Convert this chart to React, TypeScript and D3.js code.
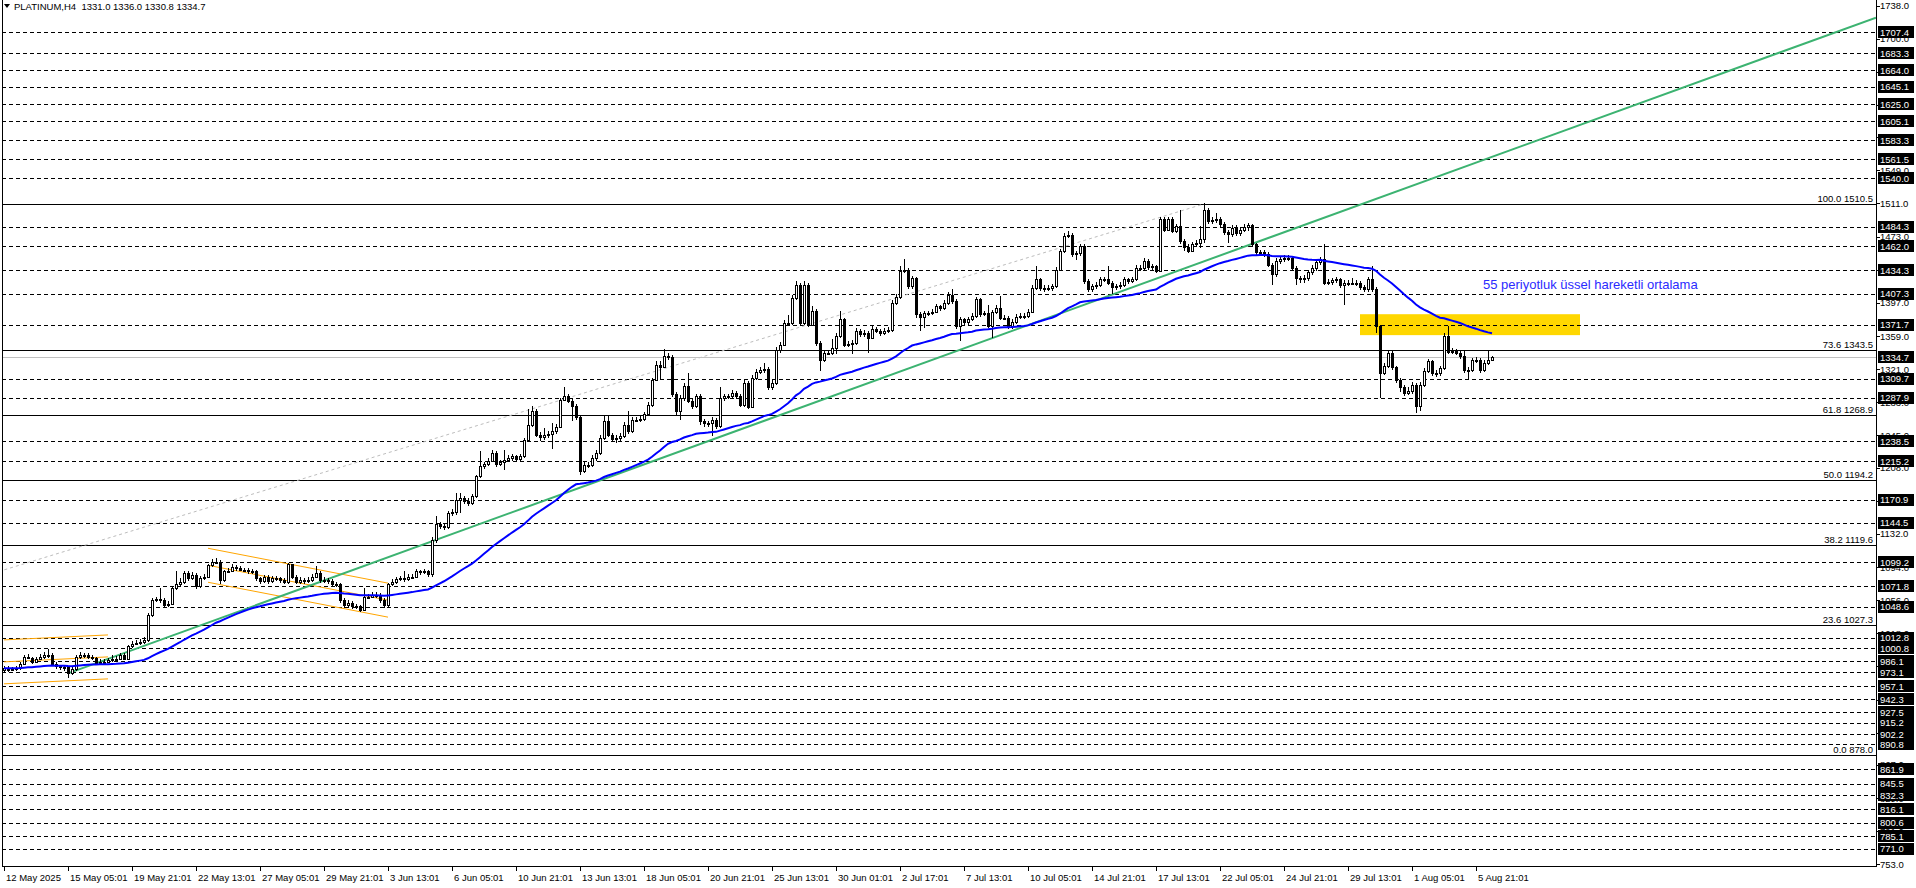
import * as d3 from "d3";

// PLATINUM H4 candles, bar 0 = 12 May 2025. open of each bar = previous close
const firstOpen = 976;
const closes = [
  978, 976, 977, 978, 983, 991, 990, 985, 989, 991, 993, 993, 983, 980, 979, 979, 972, 977, 991, 993,
  993, 991, 990, 984, 985, 985, 987, 988, 989, 993, 989, 1003, 1006, 1007, 1008, 1010, 1039, 1056, 1057, 1056,
  1050, 1052, 1070, 1075, 1077, 1087, 1081, 1085, 1072, 1081, 1083, 1096, 1100, 1100, 1079, 1089, 1090, 1094, 1093, 1091,
  1091, 1089, 1089, 1081, 1078, 1083, 1078, 1081, 1081, 1079, 1077, 1097, 1083, 1077, 1079, 1078, 1079, 1083, 1087, 1079,
  1079, 1078, 1074, 1074, 1056, 1050, 1053, 1049, 1049, 1045, 1060, 1060, 1062, 1062, 1056, 1050, 1074, 1077, 1080, 1081,
  1080, 1083, 1083, 1089, 1088, 1089, 1086, 1125, 1143, 1141, 1140, 1156, 1157, 1171, 1173, 1170, 1168, 1175, 1198, 1210,
  1212, 1216, 1225, 1212, 1214, 1217, 1219, 1221, 1218, 1221, 1240, 1257, 1273, 1246, 1243, 1245, 1247, 1250, 1255, 1286,
  1290, 1285, 1279, 1266, 1204, 1211, 1211, 1219, 1225, 1242, 1261, 1246, 1241, 1242, 1244, 1257, 1250, 1263, 1263, 1264,
  1269, 1280, 1309, 1326, 1324, 1336, 1335, 1292, 1273, 1288, 1302, 1285, 1279, 1290, 1261, 1259, 1259, 1263, 1256, 1288,
  1290, 1290, 1294, 1290, 1280, 1305, 1278, 1311, 1318, 1320, 1321, 1300, 1305, 1343, 1349, 1374, 1374, 1403, 1418, 1374,
  1418, 1372, 1388, 1351, 1332, 1340, 1340, 1345, 1359, 1378, 1349, 1350, 1351, 1365, 1361, 1363, 1357, 1367, 1365, 1362,
  1365, 1366, 1397, 1404, 1434, 1435, 1416, 1425, 1384, 1381, 1385, 1385, 1387, 1393, 1391, 1397, 1406, 1399, 1370, 1378,
  1375, 1378, 1382, 1401, 1384, 1385, 1371, 1386, 1391, 1380, 1380, 1370, 1375, 1381, 1382, 1382, 1387, 1414, 1424, 1414,
  1414, 1414, 1416, 1435, 1456, 1474, 1475, 1453, 1454, 1462, 1422, 1413, 1416, 1418, 1424, 1424, 1420, 1415, 1416, 1418,
  1424, 1422, 1424, 1437, 1437, 1445, 1438, 1439, 1434, 1493, 1481, 1493, 1480, 1485, 1468, 1461, 1457, 1464, 1466, 1470,
  1504, 1491, 1492, 1493, 1487, 1478, 1476, 1483, 1477, 1481, 1484, 1486, 1464, 1455, 1455, 1453, 1441, 1430, 1445, 1447,
  1449, 1449, 1437, 1426, 1424, 1426, 1432, 1437, 1444, 1447, 1420, 1421, 1423, 1424, 1418, 1420, 1420, 1420, 1420, 1415,
  1413, 1424, 1413, 1370, 1317, 1325, 1340, 1323, 1309, 1300, 1294, 1296, 1303, 1279, 1303, 1319, 1330, 1317, 1316, 1322,
  1359, 1341, 1342, 1340, 1336, 1320, 1320, 1331, 1332, 1320, 1328, 1331, 1334.7,
];
const highs = [
  980, 980, 979, 980, 985, 993, 994, 991, 991, 994, 996, 1000, 995, 985, 982, 982, 980, 979, 993, 996,
  995, 995, 993, 991, 988, 988, 990, 993, 992, 995, 995, 1005, 1009, 1010, 1011, 1014, 1041, 1058, 1060, 1070,
  1058, 1055, 1072, 1089, 1081, 1090, 1089, 1088, 1087, 1084, 1086, 1098, 1103, 1104, 1102, 1091, 1093, 1097, 1096, 1095,
  1093, 1093, 1092, 1091, 1083, 1085, 1085, 1084, 1084, 1083, 1081, 1099, 1098, 1085, 1082, 1081, 1082, 1086, 1095, 1089,
  1082, 1081, 1080, 1077, 1076, 1058, 1056, 1055, 1052, 1051, 1070, 1063, 1065, 1065, 1064, 1058, 1076, 1080, 1083, 1084,
  1090, 1086, 1086, 1092, 1091, 1092, 1091, 1128, 1152, 1146, 1144, 1158, 1160, 1179, 1179, 1176, 1173, 1178, 1200, 1227,
  1215, 1219, 1228, 1227, 1217, 1228, 1222, 1224, 1223, 1224, 1242, 1275, 1279, 1275, 1249, 1253, 1250, 1259, 1258, 1288,
  1300, 1293, 1288, 1281, 1268, 1214, 1214, 1222, 1228, 1245, 1267, 1267, 1248, 1246, 1248, 1260, 1273, 1266, 1266, 1267,
  1272, 1283, 1311, 1330, 1330, 1344, 1339, 1337, 1295, 1291, 1305, 1317, 1288, 1293, 1292, 1264, 1262, 1266, 1265, 1300,
  1293, 1293, 1297, 1296, 1292, 1308, 1307, 1314, 1321, 1323, 1328, 1323, 1308, 1346, 1352, 1377, 1383, 1406, 1422, 1420,
  1422, 1420, 1393, 1390, 1353, 1343, 1343, 1355, 1362, 1388, 1380, 1353, 1354, 1368, 1367, 1366, 1365, 1370, 1369, 1367,
  1368, 1369, 1400, 1407, 1439, 1447, 1437, 1428, 1427, 1387, 1388, 1388, 1390, 1396, 1395, 1400, 1409, 1413, 1401, 1381,
  1380, 1381, 1385, 1404, 1403, 1388, 1395, 1389, 1394, 1405, 1383, 1382, 1378, 1384, 1385, 1385, 1390, 1417, 1439, 1426,
  1417, 1417, 1419, 1438, 1459, 1477, 1479, 1477, 1457, 1465, 1464, 1424, 1419, 1421, 1427, 1427, 1439, 1422, 1419, 1421,
  1427, 1426, 1427, 1440, 1440, 1448, 1447, 1442, 1441, 1496, 1495, 1496, 1495, 1488, 1503, 1470, 1464, 1467, 1469, 1485,
  1511, 1506, 1495, 1500, 1496, 1490, 1481, 1486, 1486, 1484, 1487, 1489, 1488, 1466, 1458, 1458, 1455, 1443, 1448, 1451,
  1452, 1452, 1451, 1439, 1428, 1429, 1435, 1440, 1447, 1450, 1464, 1424, 1426, 1427, 1426, 1423, 1423, 1425, 1423, 1422,
  1418, 1427, 1439, 1415, 1372, 1328, 1343, 1342, 1325, 1311, 1303, 1300, 1306, 1305, 1306, 1322, 1333, 1332, 1320, 1325,
  1363, 1370, 1345, 1344, 1342, 1343, 1323, 1334, 1335, 1334, 1331, 1343, 1336.0,
];
const lows = [
  974, 974, 975, 975, 976, 982, 988, 983, 984, 987, 989, 990, 981, 977, 976, 975, 967, 970, 975, 989,
  990, 989, 987, 982, 982, 983, 984, 985, 986, 987, 987, 988, 1001, 1004, 1005, 1006, 1008, 1037, 1054, 1053,
  1047, 1048, 1050, 1068, 1072, 1075, 1078, 1079, 1069, 1070, 1079, 1081, 1094, 1097, 1075, 1077, 1087, 1088, 1090, 1089,
  1088, 1086, 1086, 1078, 1075, 1076, 1075, 1076, 1078, 1076, 1075, 1075, 1080, 1074, 1075, 1075, 1076, 1077, 1081, 1076,
  1076, 1075, 1071, 1071, 1053, 1047, 1048, 1046, 1046, 1042, 1043, 1057, 1058, 1059, 1053, 1047, 1048, 1072, 1075, 1078,
  1077, 1078, 1080, 1081, 1085, 1086, 1083, 1082, 1122, 1138, 1136, 1138, 1153, 1154, 1156, 1166, 1164, 1165, 1173, 1196,
  1207, 1210, 1214, 1209, 1210, 1205, 1214, 1216, 1215, 1216, 1219, 1238, 1255, 1243, 1238, 1240, 1242, 1229, 1247, 1253,
  1284, 1282, 1262, 1263, 1200, 1202, 1208, 1209, 1216, 1223, 1240, 1243, 1238, 1236, 1239, 1242, 1247, 1248, 1260, 1260,
  1261, 1267, 1278, 1307, 1309, 1322, 1331, 1289, 1268, 1263, 1285, 1282, 1275, 1276, 1257, 1255, 1255, 1244, 1252, 1254,
  1285, 1287, 1288, 1287, 1277, 1278, 1275, 1276, 1308, 1315, 1317, 1297, 1297, 1303, 1340, 1347, 1370, 1372, 1400, 1371,
  1372, 1369, 1370, 1348, 1319, 1329, 1337, 1337, 1338, 1357, 1346, 1346, 1338, 1349, 1358, 1358, 1340, 1355, 1362, 1359,
  1360, 1362, 1364, 1394, 1402, 1431, 1413, 1413, 1380, 1365, 1368, 1382, 1383, 1385, 1388, 1389, 1395, 1396, 1367, 1353,
  1372, 1372, 1376, 1380, 1381, 1382, 1368, 1357, 1384, 1377, 1377, 1367, 1367, 1373, 1379, 1379, 1380, 1385, 1412, 1411,
  1410, 1411, 1411, 1414, 1433, 1454, 1471, 1450, 1446, 1451, 1419, 1410, 1410, 1413, 1415, 1421, 1417, 1407, 1412, 1413,
  1415, 1419, 1420, 1422, 1434, 1435, 1435, 1435, 1431, 1432, 1478, 1479, 1477, 1477, 1465, 1457, 1454, 1455, 1461, 1460,
  1466, 1488, 1488, 1489, 1484, 1475, 1466, 1473, 1474, 1474, 1478, 1480, 1461, 1452, 1452, 1450, 1438, 1418, 1427, 1442,
  1444, 1445, 1434, 1418, 1420, 1420, 1422, 1429, 1434, 1441, 1417, 1417, 1418, 1420, 1414, 1395, 1416, 1417, 1416, 1412,
  1410, 1410, 1410, 1362, 1288, 1314, 1322, 1320, 1305, 1295, 1290, 1291, 1293, 1271, 1273, 1300, 1316, 1313, 1312, 1313,
  1320, 1338, 1338, 1337, 1333, 1317, 1309, 1318, 1328, 1317, 1318, 1326, 1330.8,
];

// time axis labels, one every 16 bars
const dateLabels = [
  "12 May 2025", "15 May 05:01", "19 May 21:01", "22 May 13:01", "27 May 05:01", "29 May 21:01",
  "3 Jun 13:01", "6 Jun 05:01", "10 Jun 21:01", "13 Jun 13:01", "18 Jun 05:01", "20 Jun 21:01",
  "25 Jun 13:01", "30 Jun 01:01", "2 Jul 17:01", "7 Jul 13:01", "10 Jul 05:01", "14 Jul 21:01",
  "17 Jul 13:01", "22 Jul 05:01", "24 Jul 21:01", "29 Jul 13:01", "1 Aug 05:01", "5 Aug 21:01",
];

const priceTicks = [
  1738, 1700, 1662, 1624, 1587, 1549, 1511, 1473, 1435, 1397, 1359, 1321, 1283, 1245,
  1208, 1170, 1132, 1094, 1056, 1018, 980, 942, 904, 867, 829, 791, 753,
];

// horizontal support / resistance lines (dashed)
const hLevels = [
  1707.4, 1683.3, 1664.0, 1645.1, 1625.0, 1605.1, 1583.3, 1561.5, 1540.0, 1484.3, 1462.0,
  1434.3, 1407.3, 1371.7, 1309.7, 1287.9, 1238.5, 1215.2, 1170.9, 1144.5, 1099.2, 1071.8,
  1048.6, 1012.8, 1000.8, 986.1, 973.1, 957.1, 942.3, 927.5, 915.2, 902.2, 890.8, 861.9,
  845.5, 832.3, 816.1, 800.6, 785.1, 771.0,
];
const bidPrice = 1334.7;

// fibonacci retracement
const fibRatios = [100.0, 73.6, 61.8, 50.0, 38.2, 23.6, 0.0];
const fibPrices = [1510.5, 1343.5, 1268.9, 1194.2, 1119.6, 1027.3, 878.0];
const fibAnchorBars = [-152, 300];
const fibAnchorPrices = [878.0, 1510.5];

// green trend line (ray)
const trendBars = [16, 296];
const trendPrices = [972, 1438];

// orange channels: [startBar, startPrice, endBar, endPrice, halfWidth]
const channelA = [0, 985.2, 26, 990.9, 25.2];
const channelB = [51, 1096, 96, 1056, 19.5];

// yellow zone
const zoneBars = [339, 394];
const zonePrices = [1360, 1384];

const emaPeriod = 55;
const noteText = "55 periyotluk üssel hareketli ortalama";

const W = 1916;
const H = 888;
const LEFT = 2;
const RIGHT = 1876;
const BOTTOM = 866;
const FONT = "'Liberation Sans', Arial, sans-serif";

export default function App() {
  const n = closes.length;
  const x = d3.scaleLinear().domain([0, n - 1]).range([4, 4 + 4 * (n - 1)]);
  const y = d3.scaleLinear().domain([753, 1738]).range([864.3, 5.6]);

  const bars = closes.map((c, i) => ({
    i,
    o: i === 0 ? firstOpen : closes[i - 1],
    h: highs[i],
    l: lows[i],
    c,
  }));

  const k = 2 / (emaPeriod + 1);
  const ema: number[] = [];
  closes.forEach((c, i) => ema.push(i === 0 ? c : c * k + ema[i - 1] * (1 - k)));
  const emaLine = d3
    .line<number>()
    .x((_, i) => x(i))
    .y((d) => y(d));

  const lineAt = (b0: number, p0: number, b1: number, p1: number, bx: number) =>
    p0 + ((p1 - p0) * (bx - b0)) / (b1 - b0);

  const rightBar = x.invert(RIGHT);
  const leftBar = x.invert(LEFT);

  const channel = (c: number[], key: string) =>
    [-1, 0, 1].map((s) => (
      <line
        key={key + s}
        x1={x(c[0])}
        y1={y(c[1] + s * c[4])}
        x2={x(c[2])}
        y2={y(c[3] + s * c[4])}
        stroke="#FFA500"
        strokeWidth={1}
      />
    ));

  const boxLevels = [...hLevels, bidPrice];

  return (
    <svg
      width={W}
      height={H}
      style={{ position: "absolute", left: 0, top: 0, background: "#fff" }}
      fontFamily={FONT}
    >
      <defs>
        <clipPath id="plot">
          <rect x={LEFT} y={0} width={RIGHT - LEFT} height={BOTTOM} />
        </clipPath>
      </defs>
      <rect x={0} y={0} width={W} height={H} fill="#fff" />

      <g clipPath="url(#plot)">
        {/* yellow zone */}
        <rect
          x={x(zoneBars[0])}
          y={y(zonePrices[1])}
          width={x(zoneBars[1]) - x(zoneBars[0])}
          height={y(zonePrices[0]) - y(zonePrices[1])}
          fill="#FFD700"
        />

        {/* dashed levels */}
        {hLevels.map((v) => (
          <line
            key={"h" + v}
            x1={LEFT}
            x2={RIGHT}
            y1={Math.round(y(v)) + 0.5}
            y2={Math.round(y(v)) + 0.5}
            stroke="#000"
            strokeWidth={1}
            strokeDasharray="4,3"
          />
        ))}

        {/* fibo levels */}
        {fibPrices.map((v) => (
          <line
            key={"f" + v}
            x1={LEFT}
            x2={RIGHT}
            y1={Math.round(y(v)) + 0.5}
            y2={Math.round(y(v)) + 0.5}
            stroke="#000"
            strokeWidth={1}
          />
        ))}
        <line
          x1={x(fibAnchorBars[0])}
          y1={y(fibAnchorPrices[0])}
          x2={x(fibAnchorBars[1])}
          y2={y(fibAnchorPrices[1])}
          stroke="#bdbdbd"
          strokeWidth={1}
          strokeDasharray="3,3"
        />

        {/* bid line */}
        <line
          x1={LEFT}
          x2={RIGHT}
          y1={Math.round(y(bidPrice)) + 0.5}
          y2={Math.round(y(bidPrice)) + 0.5}
          stroke="#c0c0c0"
          strokeWidth={1}
        />

        {/* channels */}
        {channel(channelA, "a")}
        {channel(channelB, "b")}

        {/* trend line */}
        <line
          x1={x(trendBars[0])}
          y1={y(trendPrices[0])}
          x2={RIGHT}
          y2={y(lineAt(trendBars[0], trendPrices[0], trendBars[1], trendPrices[1], rightBar))}
          stroke="#3CB371"
          strokeWidth={2}
        />

        {/* candles */}
        <g shapeRendering="crispEdges">
          {bars.map((b) => {
            const cx = Math.round(x(b.i));
            const up = b.c >= b.o;
            const top = Math.round(y(Math.max(b.o, b.c)));
            const bot = Math.round(y(Math.min(b.o, b.c)));
            return (
              <g key={"c" + b.i}>
                <line x1={cx + 0.5} x2={cx + 0.5} y1={y(b.h)} y2={y(b.l)} stroke="#000" />
                <rect
                  x={cx - 0.5}
                  y={top + 0.5}
                  width={2}
                  height={Math.max(bot - top, 0.5)}
                  fill={up ? "#fff" : "#000"}
                  stroke="#000"
                  strokeWidth={1}
                />
              </g>
            );
          })}
        </g>

        {/* EMA 55 */}
        <path d={emaLine(ema) ?? ""} fill="none" stroke="#0000FF" strokeWidth={2} />

        <text x={1483} y={289} fontSize={13} fill="#2b2bff">
          {noteText}
        </text>

        {/* fibo labels */}
        {fibPrices.map((v, i) => (
          <text
            key={"fl" + v}
            x={RIGHT - 3}
            y={Math.round(y(v)) - 2}
            fontSize={9.5}
            textAnchor="end"
            fill="#000"
          >
            {fibRatios[i].toFixed(1)} {v.toFixed(1)}
          </text>
        ))}
      </g>

      {/* frame */}
      <line x1={LEFT + 0.5} x2={LEFT + 0.5} y1={0} y2={BOTTOM} stroke="#000" />
      <line x1={LEFT} x2={RIGHT + 0.5} y1={BOTTOM + 0.5} y2={BOTTOM + 0.5} stroke="#000" />
      <line x1={RIGHT + 0.5} x2={RIGHT + 0.5} y1={0} y2={BOTTOM + 1} stroke="#000" />

      {/* header */}
      <path d="M4,4 L10,4 L7,8 Z" fill="#000" />
      <text x={14} y={10} fontSize={9.5} fill="#000" style={{ whiteSpace: "pre" }}>
        {"PLATINUM,H4  1331.0 1336.0 1330.8 1334.7"}
      </text>

      {/* price axis */}
      {priceTicks.map((v) => (
        <g key={"t" + v}>
          <line
            x1={RIGHT}
            x2={RIGHT + 4}
            y1={Math.round(y(v)) + 0.5}
            y2={Math.round(y(v)) + 0.5}
            stroke="#000"
          />
          <text x={RIGHT + 4} y={y(v) + 3.5} fontSize={9.5} fill="#000">
            {v.toFixed(1)}
          </text>
        </g>
      ))}
      {boxLevels.map((v) => (
        <g key={"b" + v}>
          <rect x={RIGHT + 2} y={Math.round(y(v)) - 6} width={36} height={12} fill="#000" />
          <text x={RIGHT + 4} y={y(v) + 3.5} fontSize={9.5} fill="#fff">
            {v.toFixed(1)}
          </text>
        </g>
      ))}

      {/* time axis */}
      {dateLabels.map((s, j) => {
        const px = Math.round(x(j * 16));
        return (
          <g key={"d" + j}>
            <line x1={px + 0.5} x2={px + 0.5} y1={BOTTOM} y2={BOTTOM + 5} stroke="#000" />
            <text x={px + 2} y={881} fontSize={9.5} fill="#000">
              {s}
            </text>
          </g>
        );
      })}
    </svg>
  );
}
